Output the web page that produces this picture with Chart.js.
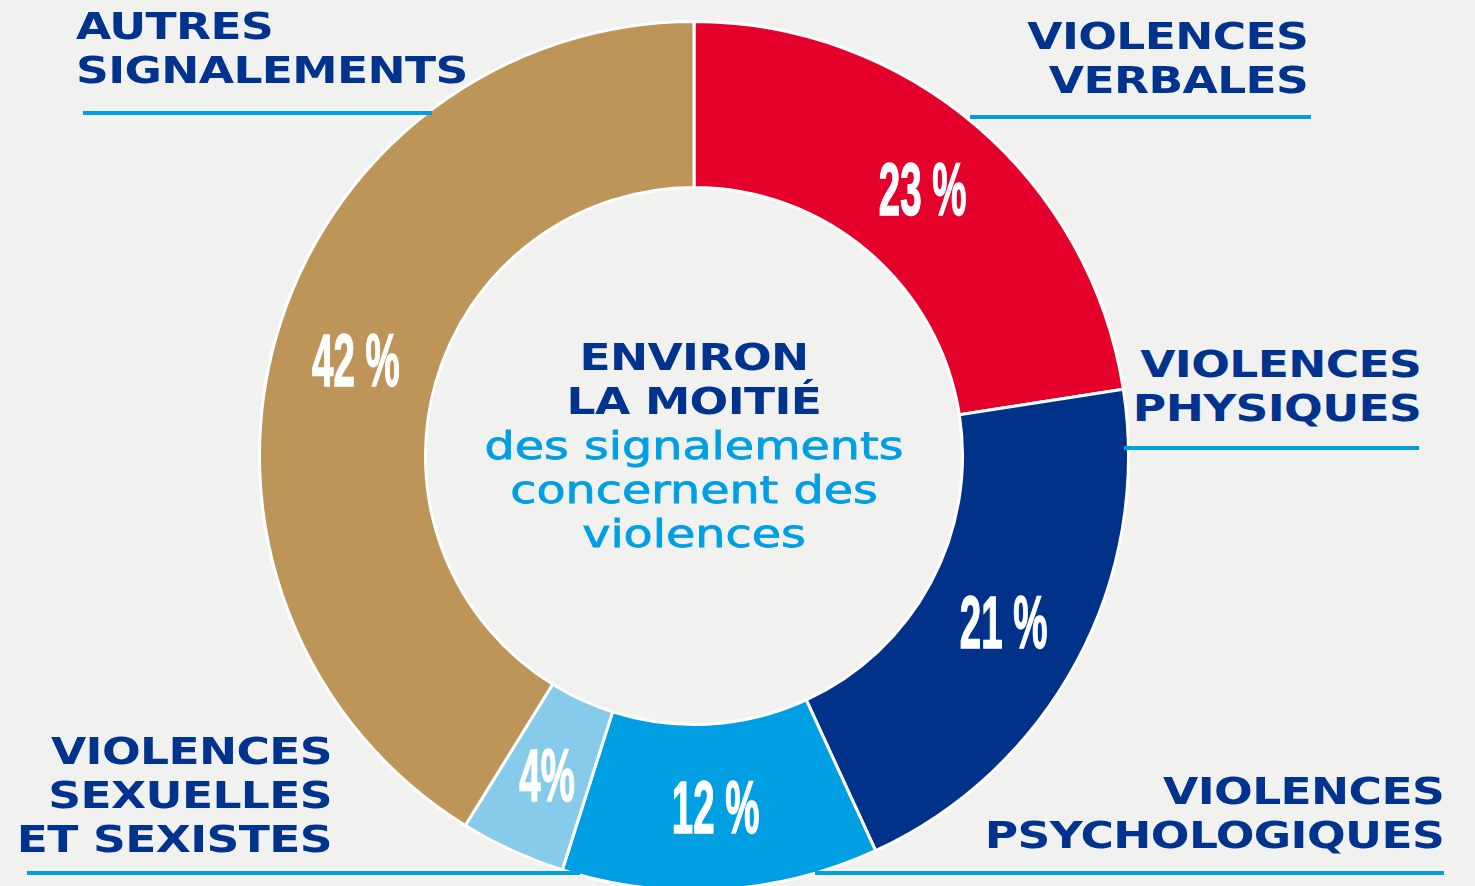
<!DOCTYPE html>
<html lang="fr">
<head>
<meta charset="UTF-8">
<title>Signalements</title>
<script src="https://cdn.jsdelivr.net/npm/chart.js"></script>
<style>
  html, body { margin: 0; padding: 0; width: 1475px; height: 886px; overflow: hidden; background: #f1f1f0; }
  #wrap { position: absolute; left: 258px; top: 20px; width: 872px; height: 872px; }
  .lbl { position: absolute; white-space: pre; font-family: 'DejaVu Sans', sans-serif; font-weight: bold;
         font-size: 37px; line-height: 44px; color: #00338d; letter-spacing: -0.5px; }
  .book { font-weight: normal; color: #009fe3; -webkit-text-stroke: 0.8px #009fe3; letter-spacing: 0; }
  .rule { position: absolute; height: 4px; background: #009fe3; }
</style>
</head>
<body>
<div id="wrap"><canvas id="donut"></canvas></div>

<script>
// data
const categories = ['VIOLENCES\nVERBALES', 'VIOLENCES\nPHYSIQUES', 'VIOLENCES\nPSYCHOLOGIQUES',
                    'VIOLENCES\nSEXUELLES\nET SEXISTES', 'AUTRES\nSIGNALEMENTS'];
const values = [23, 21, 12, 4, 42];
const valueLabels = ['23 %', '21 %', '12 %', '4%', '42 %'];
const colors = ['#e4002b', '#00328a', '#009fe3', '#87cbeb', '#bd9558'];
const centerTitle = 'ENVIRON\nLA MOITIÉ';
const centerText = 'des signalements\nconcernent des\nviolences';

// where the category labels sit (anchor x, top y, alignment) and their underlines
const labelBoxes = [
    { x: 1308, y: 15, align: 'right' },
    { x: 1421, y: 343, align: 'right' },
    { x: 1444, y: 770, align: 'right' },
    { x: 332, y: 730, align: 'right' },
    { x: 76, y: 5, align: 'left' }
];
const rules = [[970, 115, 341], [1124, 446, 295], [815, 871, 629], [27, 871, 553], [83, 111, 349]];

function measure(text, cls) {
    const s = document.createElement('span');
    s.className = cls;
    s.style.visibility = 'hidden';
    s.textContent = text;
    document.body.appendChild(s);
    const w = s.getBoundingClientRect().width;
    s.remove();
    return w;
}

const pctPlugin = {
    id: 'pct',
    afterDatasetsDraw(chart) {
        const ctx = chart.ctx;
        chart.getDatasetMeta(0).data.forEach((arc, i) => {
            const p = arc.getCenterPoint();
            ctx.save();
            ctx.translate(p.x, p.y + 26);
            ctx.scale(0.52, 1);
            ctx.font = 'bold 74px "Liberation Sans"';
            ctx.textAlign = 'center';
            ctx.textBaseline = 'alphabetic';
            ctx.fillStyle = '#fff';
            ctx.strokeStyle = '#fff';
            ctx.lineWidth = 1.5;
            ctx.strokeText(valueLabels[i], 0, 0);
            ctx.fillText(valueLabels[i], 0, 0);
            ctx.restore();
        });
    }
};

new Chart(document.getElementById('donut'), {
    type: 'doughnut',
    data: {
        labels: categories,
        datasets: [{
            data: values,
            backgroundColor: colors,
            borderColor: '#ffffff',
            borderWidth: 3
        }]
    },
    options: {
        responsive: true,
        maintainAspectRatio: false,
        animation: false,
        cutout: '61.8%',
        layout: { padding: 0 },
        plugins: { legend: { display: false }, tooltip: { enabled: false } }
    },
    plugins: [pctPlugin]
});

// category labels, stretched to look like the wide display font
const wideScale = 281 / measure('VIOLENCES', 'lbl');
labelBoxes.forEach((b, i) => {
    const d = document.createElement('div');
    d.className = 'lbl';
    d.textContent = categories[i];
    d.style.top = b.y + 'px';
    d.style.textAlign = b.align;
    if (b.align === 'right') {
        d.style.right = (1475 - b.x) + 'px';
        d.style.transformOrigin = 'right top';
    } else {
        d.style.left = b.x + 'px';
        d.style.transformOrigin = 'left top';
    }
    d.style.transform = 'scaleX(' + wideScale + ')';
    document.body.appendChild(d);
});

rules.forEach(r => {
    const d = document.createElement('div');
    d.className = 'rule';
    d.style.left = r[0] + 'px';
    d.style.top = r[1] + 'px';
    d.style.width = r[2] + 'px';
    document.body.appendChild(d);
});

// centre text
function centerBlock(text, cls, top, scale) {
    const d = document.createElement('div');
    d.className = cls;
    d.textContent = text;
    d.style.textAlign = 'center';
    d.style.left = '394px';
    d.style.width = '600px';
    d.style.top = top + 'px';
    d.style.transformOrigin = 'center top';
    d.style.transform = 'scaleX(' + scale + ')';
    document.body.appendChild(d);
}
centerBlock(centerTitle, 'lbl', 336, wideScale);
centerBlock(centerText, 'lbl book', 425, 419 / measure('des signalements', 'lbl book'));
</script>
</body>
</html>
